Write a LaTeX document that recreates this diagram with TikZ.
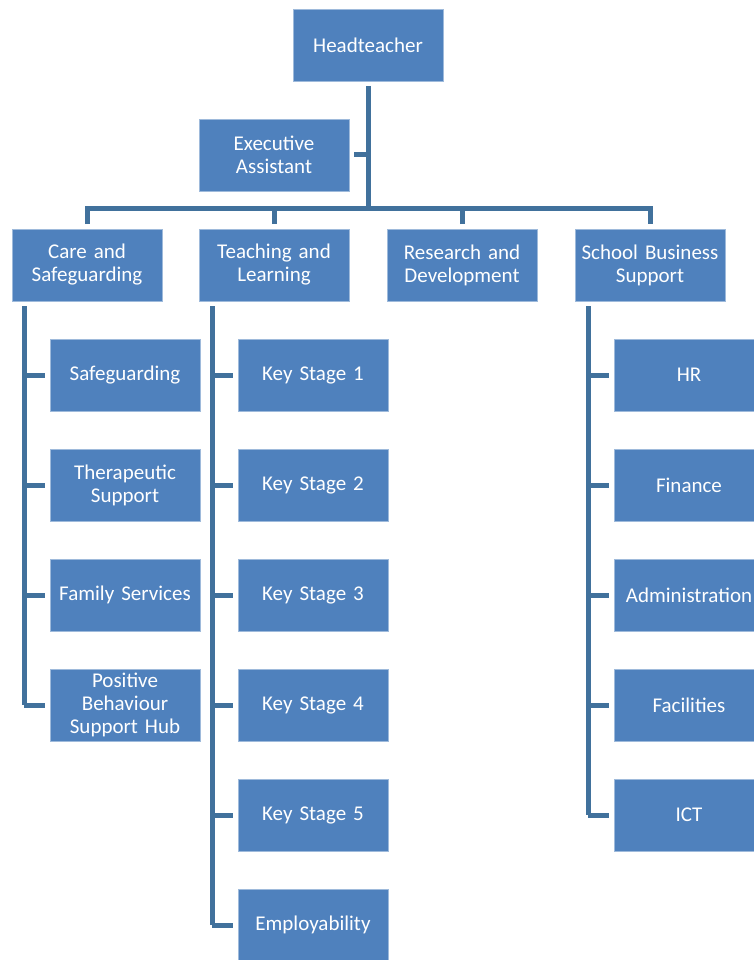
\documentclass[tikz,border=0pt]{standalone}
\usepackage{fontspec}
\setmainfont{Carlito}
\definecolor{boxblue}{HTML}{4F81BD}
\definecolor{linkblue}{HTML}{41719C}

\begin{document}
\begin{tikzpicture}
[x=1pt,y=-1pt,
  unitBox/.style={shape=rectangle,fill=boxblue,draw=boxblue!55!white,line width=0.6pt,
    minimum width=150pt,minimum height=72pt,text width=146pt,align=center,
    text=white,inner sep=2pt,outer sep=5pt,
    font=\fontsize{21}{23}\selectfont},%
  linkDecorate/.style={draw=linkblue,line width=5pt}]
\useasboundingbox (0,0) rectangle (753,960);
%% boxes
\foreach \nodename/\x/\y/\label in {
  head/368/45/Headteacher, exec/274/155/Executive\\Assistant,
  care/87/265/Care and\\Safeguarding, teach/274/265/Teaching and\\Learning,
  research/462/265/Research and\\Development, business/650/265/School Business\\Support}
{
  \node (\nodename) at (\x,\y) [unitBox] {\label};
}
\foreach \nodename/\y/\label in {
  c1/375/Safeguarding, c2/485/Therapeutic\\Support, c3/595/Family Services,
  c4/705/Positive\\Behaviour\\Support Hub}
{
  \node (\nodename) at (125,\y) [unitBox] {\label};
}
\foreach \nodename/\y/\label in {
  t1/375/Key Stage 1, t2/485/Key Stage 2, t3/595/Key Stage 3,
  t4/705/Key Stage 4, t5/815/Key Stage 5, t6/925/Employability}
{
  \node (\nodename) at (313,\y) [unitBox] {\label};
}
\foreach \nodename/\y/\label in {
  b1/375/HR, b2/485/Finance, b3/595/Administration, b4/705/Facilities, b5/815/ICT}
{
  \node (\nodename) at (689,\y) [unitBox] {\label};
}
%% lines
\coordinate (bar) at (368,208);
\coordinate (carespine) at (24,306);
\coordinate (teachspine) at (212,306);
\coordinate (busspine) at (588,306);
\path[linkDecorate] (head.south) -- (head.south |- bar);
\path[linkDecorate] (exec.east) -- (exec.east -| head.south);
\path[linkDecorate] (care.north) |- (business.north |- bar) -- (business.north);
\foreach \startnode in {teach, research}
{
  \path[linkDecorate] (\startnode.north) -- (\startnode.north |- bar);
}
\path[linkDecorate] (carespine) -- (carespine |- c4.west);
\path[linkDecorate] (teachspine) -- (teachspine |- t6.west);
\path[linkDecorate] (busspine) -- (busspine |- b5.west);
\foreach \endnode in {c1, c2, c3, c4}
{
  \path[linkDecorate] (carespine |- \endnode.west) -- (\endnode.west);
}
\foreach \endnode in {t1, t2, t3, t4, t5, t6}
{
  \path[linkDecorate] (teachspine |- \endnode.west) -- (\endnode.west);
}
\foreach \endnode in {b1, b2, b3, b4, b5}
{
  \path[linkDecorate] (busspine |- \endnode.west) -- (\endnode.west);
}
\end{tikzpicture}
\end{document}
